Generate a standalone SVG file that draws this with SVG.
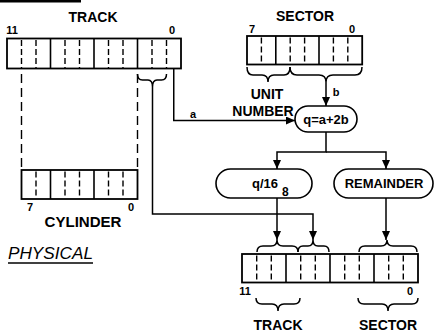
<svg xmlns="http://www.w3.org/2000/svg" width="437" height="332" viewBox="0 0 437 332">
<style>
text{font-family:"Liberation Sans",Arial,sans-serif;fill:#000;font-weight:bold}
.lbl{font-size:14px}
.sm{font-size:11px}
.ital{font-size:17px;font-style:italic;font-weight:normal}
.box{fill:#fff;stroke:#000;stroke-width:1.8}
.sol{stroke:#000;stroke-width:1.6}
.dsh{stroke:#000;stroke-width:1.4;stroke-dasharray:6 3}
.ldsh{stroke:#000;stroke-width:1.4;stroke-dasharray:9 5;fill:none}
.brace{fill:none;stroke:#000;stroke-width:1.5}
.con{fill:none;stroke:#000;stroke-width:1.5}
.oval{fill:#fff;stroke:#000;stroke-width:1.6}
</style>
<defs>
<marker id="ah" markerUnits="userSpaceOnUse" markerWidth="9" markerHeight="8" refX="9" refY="4" orient="auto">
<path d="M0,0 L9,4 L0,8 z" fill="#000"/>
</marker>
</defs>
<rect x="0" y="0" width="81" height="2.5" fill="#000"/>

<g id="track-logical">
<text class="lbl" x="93" y="22" text-anchor="middle">TRACK</text>
<text class="sm" x="12" y="34" text-anchor="middle">11</text>
<text class="sm" x="172" y="34" text-anchor="middle">0</text>
<rect class="box" x="7" y="38.5" width="174" height="30"/>
<line class="dsh" x1="21.5" y1="40" x2="21.5" y2="68"/>
<line class="dsh" x1="36" y1="40" x2="36" y2="68"/>
<line class="sol" x1="50.5" y1="38.5" x2="50.5" y2="68.5"/>
<line class="dsh" x1="65" y1="40" x2="65" y2="68"/>
<line class="dsh" x1="79.5" y1="40" x2="79.5" y2="68"/>
<line class="sol" x1="94" y1="38.5" x2="94" y2="68.5"/>
<line class="dsh" x1="108.5" y1="40" x2="108.5" y2="68"/>
<line class="dsh" x1="123" y1="40" x2="123" y2="68"/>
<line class="sol" x1="137.5" y1="38.5" x2="137.5" y2="68.5"/>
<line class="dsh" x1="152" y1="40" x2="152" y2="68"/>
<line class="dsh" x1="166.5" y1="40" x2="166.5" y2="68"/>
<path class="brace" d="M137.5,74 Q137.5,80 142.5,80 H148 Q152.5,80 152.5,87 Q152.5,80 157,80 H161.5 Q166.5,80 166.5,74"/>
</g>

<g id="sector-logical">
<text class="lbl" x="305" y="21" text-anchor="middle">SECTOR</text>
<text class="sm" x="252" y="33" text-anchor="middle">7</text>
<text class="sm" x="352" y="33" text-anchor="middle">0</text>
<rect class="box" x="247" y="36" width="115.2" height="28.5"/>
<line class="dsh" x1="261.4" y1="37.5" x2="261.4" y2="64"/>
<line class="sol" x1="275.8" y1="36" x2="275.8" y2="64.5"/>
<line class="dsh" x1="290.2" y1="37.5" x2="290.2" y2="64"/>
<line class="dsh" x1="304.6" y1="37.5" x2="304.6" y2="64"/>
<line class="sol" x1="319" y1="36" x2="319" y2="64.5"/>
<line class="dsh" x1="333.4" y1="37.5" x2="333.4" y2="64"/>
<line class="dsh" x1="347.8" y1="37.5" x2="347.8" y2="64"/>
<path class="brace" d="M247,67 Q247,75 253,75 H262 Q268,75 268,82 Q268,75 274,75 H284 Q290,75 290,67"/>
<path class="brace" d="M290,67 Q290,75 297,75 H319 Q326,75 326,82 Q326,75 333,75 H355 Q362,75 362,67"/>
<text class="lbl" x="267" y="99" text-anchor="middle">UNIT</text>
<text class="lbl" x="263" y="116" text-anchor="middle">NUMBER</text>
</g>

<g id="cylinder">
<line class="ldsh" x1="21.5" y1="74" x2="21.5" y2="170"/>
<line class="ldsh" x1="137.5" y1="74" x2="137.5" y2="170"/>
<rect class="box" x="21.5" y="170" width="116" height="29"/>
<line class="dsh" x1="36" y1="171.5" x2="36" y2="198.5"/>
<line class="sol" x1="50.5" y1="170" x2="50.5" y2="199"/>
<line class="dsh" x1="65" y1="171.5" x2="65" y2="198.5"/>
<line class="dsh" x1="79.5" y1="171.5" x2="79.5" y2="198.5"/>
<line class="sol" x1="94" y1="170" x2="94" y2="199"/>
<line class="dsh" x1="108.5" y1="171.5" x2="108.5" y2="198.5"/>
<line class="dsh" x1="123" y1="171.5" x2="123" y2="198.5"/>
<text class="sm" x="30" y="211" text-anchor="middle">7</text>
<text class="sm" x="131" y="211" text-anchor="middle">0</text>
<text class="lbl" x="83" y="227" text-anchor="middle" textLength="77" lengthAdjust="spacingAndGlyphs">CYLINDER</text>
</g>

<g id="physical">
<text class="ital" x="8" y="259" textLength="85" lengthAdjust="spacingAndGlyphs">PHYSICAL</text>
<line x1="8" y1="263" x2="93" y2="263" stroke="#000" stroke-width="1.5"/>
</g>

<g id="calc">
<rect class="oval" x="295" y="106" width="62" height="26" rx="13"/>
<text x="326" y="124" font-size="13" text-anchor="middle">q=a+2b</text>
</g>

<g id="quotient">
<rect class="oval" x="216" y="169" width="96" height="29" rx="14.5"/>
<text x="252" y="188" font-size="13">q/16</text>
<text x="282" y="196" font-size="12">8</text>
</g>

<g id="remainder">
<rect class="oval" x="334" y="169" width="99" height="29" rx="14.5"/>
<text x="384" y="188" font-size="13" text-anchor="middle">REMAINDER</text>
</g>

<g id="physical-register">
<rect class="box" x="242" y="254" width="176" height="28.5"/>
<line class="dsh" x1="256.7" y1="255.5" x2="256.7" y2="282"/>
<line class="dsh" x1="271.3" y1="255.5" x2="271.3" y2="282"/>
<line class="sol" x1="286" y1="254" x2="286" y2="282.5"/>
<line class="dsh" x1="300.7" y1="255.5" x2="300.7" y2="282"/>
<line class="dsh" x1="315.3" y1="255.5" x2="315.3" y2="282"/>
<line class="sol" x1="330" y1="254" x2="330" y2="282.5"/>
<line class="dsh" x1="344.7" y1="255.5" x2="344.7" y2="282"/>
<line class="dsh" x1="359.3" y1="255.5" x2="359.3" y2="282"/>
<line class="sol" x1="374" y1="254" x2="374" y2="282.5"/>
<line class="dsh" x1="388.7" y1="255.5" x2="388.7" y2="282"/>
<line class="dsh" x1="403.3" y1="255.5" x2="403.3" y2="282"/>
<path class="brace" d="M257,252 Q257,246 263,246 H271 Q277,246 277,240 Q277,246 283,246 H292 Q298,246 298,252"/>
<path class="brace" d="M298,252 Q298,246 303,246 H308 Q313,246 313,240 Q313,246 318,246 H324 Q329,246 329,252"/>
<path class="brace" d="M359,252 Q359,246 365,246 H381 Q387,246 387,240 Q387,246 393,246 H411 Q417,246 417,252"/>
<text class="sm" x="245" y="295" text-anchor="middle">11</text>
<text class="sm" x="410" y="295" text-anchor="middle">0</text>
<path class="brace" d="M256,298 Q256,304 262,304 H272 Q278,304 278,311 Q278,304 284,304 H294 Q300,304 300,298"/>
<path class="brace" d="M358,298 Q358,304 364,304 H382 Q388,304 388,311 Q388,304 394,304 H412 Q418,304 418,298"/>
<text class="lbl" x="278" y="330" text-anchor="middle">TRACK</text>
<text class="lbl" x="388" y="330" text-anchor="middle">SECTOR</text>
</g>

<g id="connectors">
<path class="con" d="M173.75,68.5 V120.5 H295" marker-end="url(#ah)"/>
<text class="sm" x="193" y="118" text-anchor="middle">a</text>
<path class="con" d="M326,82 V106" marker-end="url(#ah)"/>
<text class="sm" x="336" y="96" text-anchor="middle">b</text>
<path class="con" d="M326,132 V152 H277 V169" marker-end="url(#ah)"/>
<path class="con" d="M326,152 H386 V169" marker-end="url(#ah)"/>
<path class="con" d="M277,198 V240" marker-end="url(#ah)"/>
<path class="con" d="M386,198 V240" marker-end="url(#ah)"/>
<path class="con" d="M152.5,87 V214 H313 V240" marker-end="url(#ah)"/>
</g>
</svg>
